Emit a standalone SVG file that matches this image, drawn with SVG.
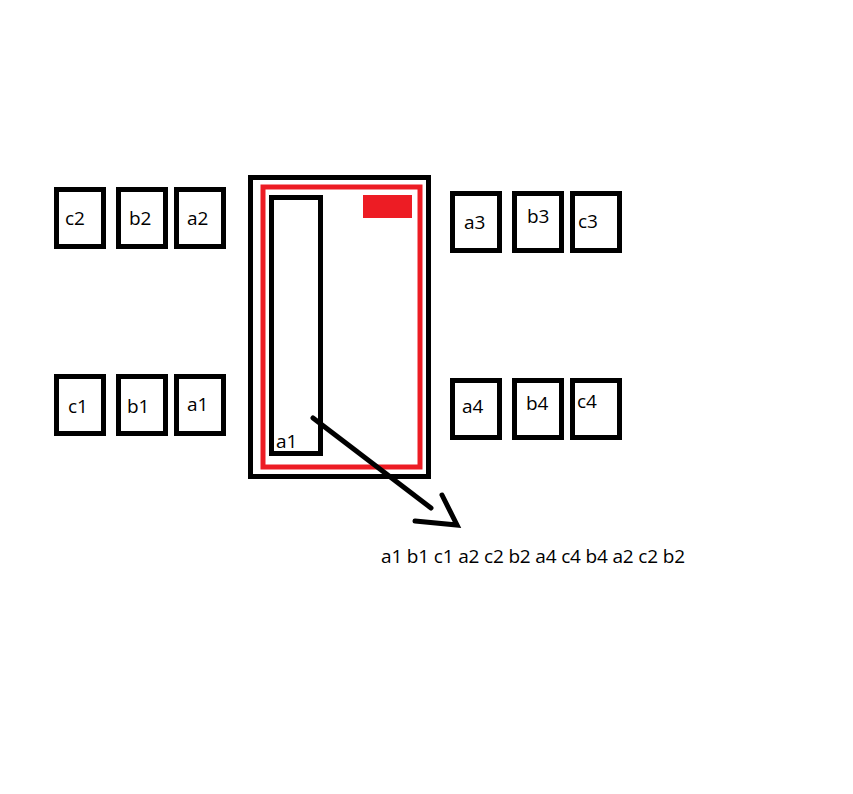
<svg xmlns="http://www.w3.org/2000/svg" width="853" height="794" viewBox="0 0 853 794">
<style>
.box{fill:none;stroke:#000;stroke-width:5}
.red{fill:none;stroke:#ED1C24;stroke-width:5}
.lbl{font-family:"Open Sans","Liberation Sans",Arial,sans-serif;font-size:19px;fill:#000}
.ln{stroke:#000;stroke-width:5;stroke-linecap:round;fill:none}
</style>
<rect width="853" height="794" fill="#fff"/>
<g id="c2"><rect class="box" x="56.5" y="189.5" width="47" height="57"/><text class="lbl" x="65" y="225">c2</text></g>
<g id="b2"><rect class="box" x="118.5" y="189.5" width="47" height="57"/><text class="lbl" x="129" y="225">b2</text></g>
<g id="a2"><rect class="box" x="176.5" y="189.5" width="47" height="57"/><text class="lbl" x="187" y="225">a2</text></g>
<g id="c1"><rect class="box" x="56.5" y="376.5" width="47" height="57"/><text class="lbl" x="68" y="413">c1</text></g>
<g id="b1"><rect class="box" x="118.5" y="376.5" width="47" height="57"/><text class="lbl" x="127" y="413">b1</text></g>
<g id="a1"><rect class="box" x="176.5" y="376.5" width="47" height="57"/><text class="lbl" x="187" y="411">a1</text></g>
<g id="a3"><rect class="box" x="452.5" y="193.5" width="47" height="57"/><text class="lbl" x="464" y="229">a3</text></g>
<g id="b3"><rect class="box" x="514.5" y="193.5" width="47" height="57"/><text class="lbl" x="527" y="223">b3</text></g>
<g id="c3"><rect class="box" x="572.5" y="193.5" width="47" height="57"/><text class="lbl" x="578" y="228">c3</text></g>
<g id="a4"><rect class="box" x="452.5" y="380.5" width="47" height="57"/><text class="lbl" x="462" y="413">a4</text></g>
<g id="b4"><rect class="box" x="514.5" y="380.5" width="47" height="57"/><text class="lbl" x="526" y="410">b4</text></g>
<g id="c4"><rect class="box" x="572.5" y="380.5" width="47" height="57"/><text class="lbl" x="577" y="408">c4</text></g>
<g id="container">
<rect class="box" x="250.5" y="177.5" width="178" height="299"/>
<rect class="red" x="263" y="187" width="157" height="280"/>
<rect fill="#ED1C24" x="363" y="195" width="49" height="23"/>
</g>
<g id="slot"><rect class="box" x="271.5" y="197.5" width="49" height="256"/><text class="lbl" x="276" y="448">a1</text></g>
<g id="connectors">
<line class="ln" x1="313" y1="418" x2="431" y2="508"/>
<polyline class="ln" points="415,521 457,525 442,495"/>
</g>
<g id="sequence"><text class="lbl" x="381" y="563" textLength="304" lengthAdjust="spacing">a1 b1 c1 a2 c2 b2 a4 c4 b4 a2 c2 b2</text></g>
</svg>
